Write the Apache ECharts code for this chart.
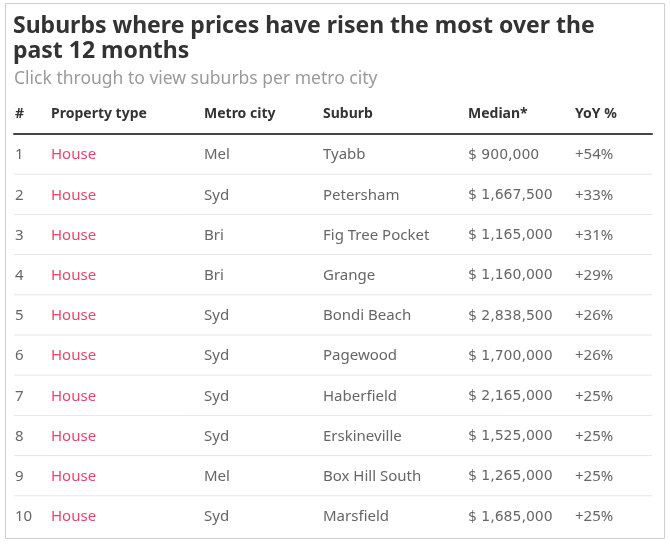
<!DOCTYPE html>
<html>
<head>
<meta charset="utf-8">
<script src="https://cdn.jsdelivr.net/npm/echarts@6/dist/echarts.min.js"></script>
<style>
  html, body { margin: 0; padding: 0; background: #fff; }
  #chart { width: 670px; height: 546px; }
</style>
</head>
<body>
<div id="chart"></div>
<script>
// table data
const ranks = ["1", "2", "3", "4", "5", "6", "7", "8", "9", "10"];
const propTypes = ["House", "House", "House", "House", "House", "House", "House", "House", "House", "House"];
const cities = ["Mel", "Syd", "Bri", "Bri", "Syd", "Syd", "Syd", "Syd", "Mel", "Syd"];
const suburbs = ["Tyabb", "Petersham", "Fig Tree Pocket", "Grange", "Bondi Beach", "Pagewood", "Haberfield", "Erskineville", "Box Hill South", "Marsfield"];
const medians = ["$ 900,000", "$ 1,667,500", "$ 1,165,000", "$ 1,160,000", "$ 2,838,500", "$ 1,700,000", "$ 2,165,000", "$ 1,525,000", "$ 1,265,000", "$ 1,685,000"];
const yoy = ["+54%", "+33%", "+31%", "+29%", "+26%", "+26%", "+25%", "+25%", "+25%", "+25%"];
const headers = ["#", "Property type", "Metro city", "Suburb", "Median*", "YoY %"];

// layout (px offsets of each column from the table's left edge)
const colOffset = [1, 37, 190, 309, 454, 561];
const FONT = "'Noto Sans', sans-serif";
const NUM_FONT = "'DejaVu Sans', sans-serif";

addEventListener("DOMContentLoaded", () => {
  const chart = echarts.init(document.getElementById("chart"));

  const columns = [ranks, propTypes, cities, suburbs, medians, yoy];

  const renderRow = (params, api) => {
    const i = api.value(0);
    const cs = params.coordSys;
    const y = api.coord([0, i])[1];
    const h = api.size([0, 1])[1];
    const children = columns.map((col, c) => ({
      type: "text",
      style: {
        x: cs.x + colOffset[c],
        y: y + 1,
        text: col[i],
        fill: c === 1 ? "#e8456f" : "#666",
        font: c === 4 ? "14px " + NUM_FONT : "15px " + FONT,
        verticalAlign: "middle",
      },
    }));
    if (i < ranks.length - 1) {
      children.push({
        type: "line",
        shape: { x1: cs.x, y1: y + h / 2, x2: cs.x + cs.width, y2: y + h / 2 },
        style: { stroke: "#e6e6e6", lineWidth: 1 },
      });
    }
    return { type: "group", children };
  };

  const option = {
    animation: false,
    grid: { left: 14, right: 18, top: 134, bottom: 10 },
    xAxis: {
      type: "value",
      min: 0,
      max: 1,
      position: "top",
      axisLine: { show: true, lineStyle: { color: "#444", width: 2 } },
      axisTick: { show: false },
      axisLabel: { show: false },
      splitLine: { show: false },
    },
    yAxis: {
      type: "category",
      data: ranks,
      inverse: true,
      show: false,
    },
    graphic: [
      {
        type: "rect",
        shape: { x: 5.5, y: 3.5, width: 659, height: 535 },
        style: { fill: "none", stroke: "#cfcfcf", lineWidth: 1 },
      },
      {
        type: "text",
        x: 13,
        y: 26,
        style: {
          text: "Suburbs where prices have risen the most over the",
          font: "bold 23px " + FONT,
          fill: "#333",
          verticalAlign: "middle",
        },
      },
      {
        type: "text",
        x: 13,
        y: 51,
        style: {
          text: "past 12 months",
          font: "bold 23px " + FONT,
          fill: "#333",
          verticalAlign: "middle",
        },
      },
      {
        type: "text",
        x: 14,
        y: 79,
        style: {
          text: "Click through to view suburbs per metro city",
          font: "17.5px " + FONT,
          fill: "#9a9a9a",
          verticalAlign: "middle",
        },
      },
      ...headers.map((t, c) => ({
        type: "text",
        x: 14 + colOffset[c],
        y: 114,
        style: {
          text: t,
          font: "bold 14px " + FONT,
          fill: "#333",
          verticalAlign: "middle",
        },
      })),
    ],
    series: [
      {
        type: "custom",
        coordinateSystem: "cartesian2d",
        renderItem: renderRow,
        data: ranks.map((r, i) => [i]),
        encode: { y: 0 },
      },
    ],
  };

  chart.setOption(option);
});
</script>
</body>
</html>
